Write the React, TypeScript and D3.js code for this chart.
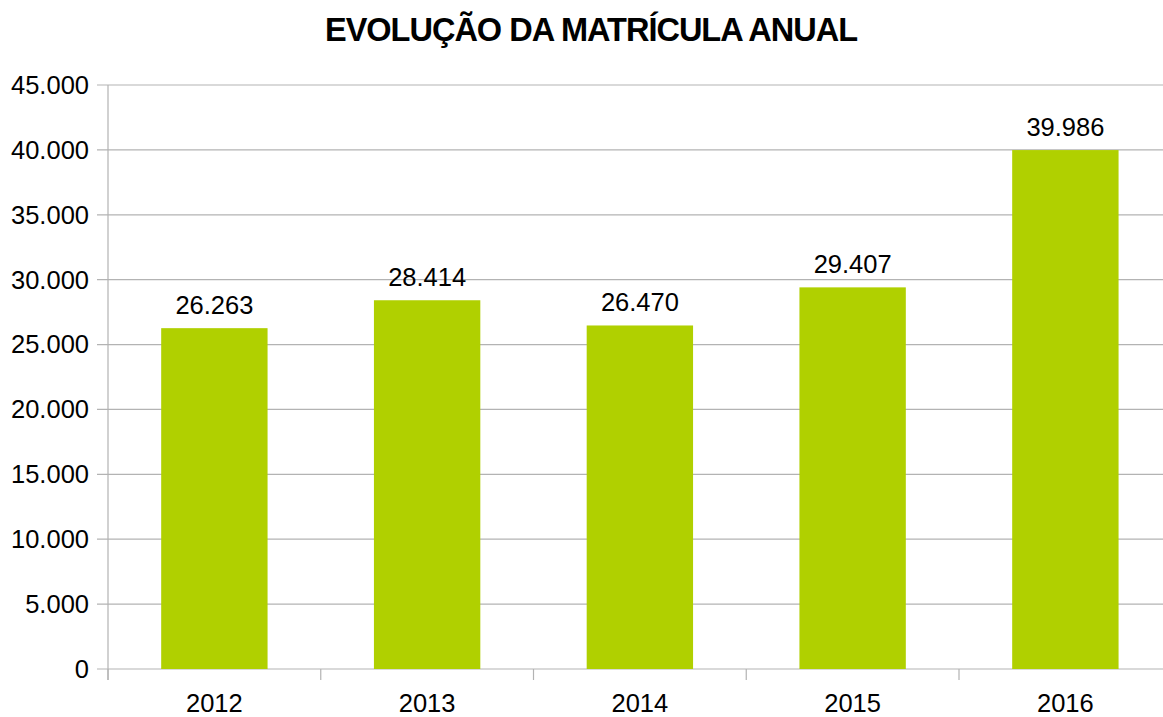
import React from 'react';
import * as d3 from 'd3';

const years = ['2012', '2013', '2014', '2015', '2016'];
const enrolment = [26263, 28414, 26470, 29407, 39986];
const yTicks = [0, 5000, 10000, 15000, 20000, 25000, 30000, 35000, 40000, 45000];

const width = 1163;
const height = 717;
const left = 108;
const top = 85;
const bottom = 669;
const bandW = 212.75;

const ptBR = d3.formatLocale({ decimal: ',', thousands: '.', grouping: [3], currency: ['R$', ''] });
const fmt = ptBR.format(',d');

export default function App() {
  const x = d3.scaleBand<string>()
    .domain(years)
    .range([left, left + bandW * years.length])
    .paddingInner(0.5)
    .paddingOuter(0.25);
  const y = d3.scaleLinear().domain([0, 45000]).range([bottom, top]);
  const font = '"Liberation Sans", Arial, sans-serif';

  return (
    <svg width={width} height={height} style={{ position: 'absolute', left: 0, top: 0, background: '#fff' }} fontFamily={font}>
      <text x={591} y={41} textAnchor="middle" fontSize={32.5} fontWeight="bold" letterSpacing={-1} fill="#000">
        EVOLUÇÃO DA MATRÍCULA ANUAL
      </text>
      {/* grid lines and y labels */}
      {yTicks.map(t => (
        <g key={t}>
          <line x1={97} x2={width} y1={y(t)} y2={y(t)} stroke="#b3b3b3" strokeWidth={1.2} />
          <text x={89} y={y(t)} dy="0.35em" textAnchor="end" fontSize={25.5} fill="#000">{fmt(t)}</text>
        </g>
      ))}
      <line x1={left} x2={left} y1={top} y2={bottom + 11} stroke="#b3b3b3" strokeWidth={1.2} />
      {/* x ticks on category boundaries */}
      {d3.range(years.length + 1).map(i => (
        <line key={i} x1={left + i * bandW} x2={left + i * bandW} y1={bottom} y2={bottom + 11} stroke="#b3b3b3" strokeWidth={1.2} />
      ))}
      {years.map((yr, i) => (
        <g key={yr}>
          <rect x={x(yr)} y={y(enrolment[i])} width={x.bandwidth()} height={bottom - y(enrolment[i])} fill="#b0d000" />
          <text x={(x(yr) as number) + x.bandwidth() / 2} y={y(enrolment[i]) - 14} textAnchor="middle" fontSize={25.5} fill="#000">
            {fmt(enrolment[i])}
          </text>
          <text x={(x(yr) as number) + x.bandwidth() / 2} y={712} textAnchor="middle" fontSize={25.5} fill="#000">{yr}</text>
        </g>
      ))}
    </svg>
  );
}
